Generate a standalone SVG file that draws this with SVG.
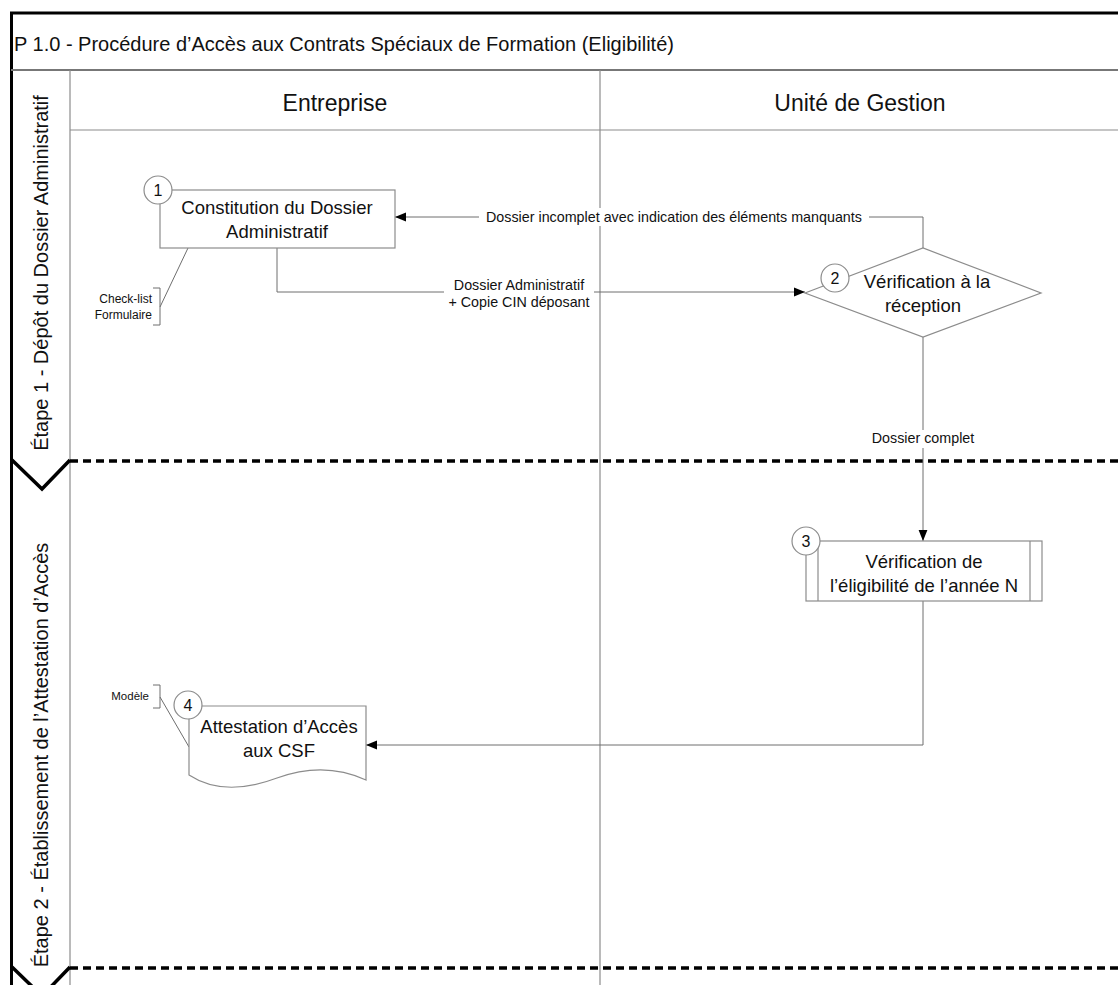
<svg xmlns="http://www.w3.org/2000/svg" width="1118" height="985" viewBox="0 0 1118 985">
<defs>
<style>
.t{font-family:"Liberation Sans",Arial,sans-serif;fill:#111}
.grid{stroke:#8c8c8c;stroke-width:1.2;fill:none}
.shape{fill:#fff;stroke:#8c8c8c;stroke-width:1.2}
.conn{fill:none;stroke:#6e6e6e;stroke-width:1}
.phase{fill:none;stroke:#000;stroke-width:3.5;stroke-dasharray:8,5}
.chev{fill:none;stroke:#000;stroke-width:3.5}
.num{fill:#fff;stroke:#8c8c8c;stroke-width:1.2}
.node{font-size:18.5px}
.lbl{font-size:14.3px}
.ann{font-size:11.5px}
</style>
<marker id="arr" viewBox="0 0 10 10" refX="10" refY="5" markerWidth="11" markerHeight="11" markerUnits="userSpaceOnUse" orient="auto">
<path d="M0,1 L10,5 L0,9 Z" fill="#000"/>
</marker>
</defs>
<rect x="0" y="0" width="1118" height="985" fill="#fff"/>

<g id="frame">
<path d="M1125,13 H11.5 V995" fill="none" stroke="#000" stroke-width="3"/>
<line x1="11" y1="70" x2="1118" y2="70" stroke="#777" stroke-width="2"/>
<line x1="70" y1="130" x2="1118" y2="130" class="grid"/>
<line x1="70" y1="70" x2="70" y2="985" class="grid"/>
<line x1="600" y1="70" x2="600" y2="985" class="grid"/>
<text class="t" x="14" y="51" font-size="20">P 1.0 - Procédure d’Accès aux Contrats Spéciaux de Formation (Eligibilité)</text>
<text class="t" x="335" y="111" font-size="23" text-anchor="middle">Entreprise</text>
<text class="t" x="860" y="111" font-size="23" text-anchor="middle">Unité de Gestion</text>
</g>

<g id="phases">
<line x1="70" y1="461" x2="1118" y2="461" class="phase"/>
<polyline points="12,460 42,489 70,460" class="chev"/>
<line x1="70" y1="968" x2="1118" y2="968" class="phase"/>
<polyline points="12,967 42,996 70,967" class="chev"/>
<text class="t" font-size="20" text-anchor="middle" transform="translate(48,273) rotate(-90)">Étape 1 - Dépôt du Dossier Administratif</text>
<text class="t" font-size="20" text-anchor="middle" transform="translate(48,755) rotate(-90)">Étape 2 - Établissement de l’Attestation d’Accès</text>
</g>

<g id="connectors">
<polyline points="277,248 277,292 805,292" class="conn" marker-end="url(#arr)"/>
<rect x="444" y="275" width="150" height="36" fill="#fff"/>
<text class="t lbl" text-anchor="middle" x="519" y="290">Dossier Administratif</text>
<text class="t lbl" text-anchor="middle" x="519" y="307">+ Copie CIN déposant</text>

<polyline points="923,248 923,217 395,217" class="conn" marker-end="url(#arr)"/>
<rect x="479" y="208" width="390" height="18" fill="#fff"/>
<text class="t lbl" text-anchor="middle" x="674" y="222">Dossier incomplet avec indication des éléments manquants</text>

<polyline points="923,337 923,541" class="conn" marker-end="url(#arr)"/>
<rect x="869" y="430" width="109" height="18" fill="#fff"/>
<text class="t lbl" text-anchor="middle" x="923" y="443">Dossier complet</text>

<polyline points="923,601 923,745 366,745" class="conn" marker-end="url(#arr)"/>

<line x1="188" y1="248" x2="160" y2="307" class="conn"/>
<polyline points="153,288 160,288 160,325 153,325" class="conn"/>
<line x1="160" y1="697" x2="189" y2="747" class="conn"/>
<polyline points="153,685 160,685 160,708 153,708" class="conn"/>
</g>

<g id="annot1">
<text class="t" font-size="12" text-anchor="end" x="152" y="303">Check-list</text>
<text class="t" font-size="12" text-anchor="end" x="152" y="319">Formulaire</text>
</g>
<g id="annot4">
<text class="t ann" text-anchor="end" x="149" y="700">Modèle</text>
</g>

<g id="node1">
<rect x="160" y="190" width="235" height="58" class="shape"/>
<text class="t node" text-anchor="middle" x="277" y="214">Constitution du Dossier</text>
<text class="t node" text-anchor="middle" x="277" y="238">Administratif</text>
<circle cx="158" cy="190" r="14" class="num"/>
<text class="t" font-size="16" text-anchor="middle" x="158" y="196">1</text>
</g>

<g id="node2">
<polygon points="805,293 923,248 1041,293 923,337" class="shape"/>
<text class="t node" text-anchor="middle" x="927" y="288">Vérification à la</text>
<text class="t node" text-anchor="middle" x="923" y="312">réception</text>
<circle cx="835" cy="278" r="14" class="num"/>
<text class="t" font-size="16" text-anchor="middle" x="835" y="284">2</text>
</g>

<g id="node3">
<rect x="806" y="541" width="236" height="60" class="shape"/>
<line x1="818" y1="541" x2="818" y2="601" class="grid"/>
<line x1="1030" y1="541" x2="1030" y2="601" class="grid"/>
<text class="t node" text-anchor="middle" x="924" y="568">Vérification de</text>
<text class="t node" text-anchor="middle" x="924" y="592">l’éligibilité de l’année N</text>
<circle cx="806" cy="541" r="14" class="num"/>
<text class="t" font-size="16" text-anchor="middle" x="806" y="547">3</text>
</g>

<g id="node4">
<path d="M189,706 H366 V780 C340,768 310,766 277,778 C245,790 215,792 189,775 Z" class="shape"/>
<text class="t node" text-anchor="middle" x="279" y="733">Attestation d’Accès</text>
<text class="t node" text-anchor="middle" x="279" y="757">aux CSF</text>
<circle cx="188" cy="705" r="14" class="num"/>
<text class="t" font-size="16" text-anchor="middle" x="188" y="711">4</text>
</g>
</svg>
